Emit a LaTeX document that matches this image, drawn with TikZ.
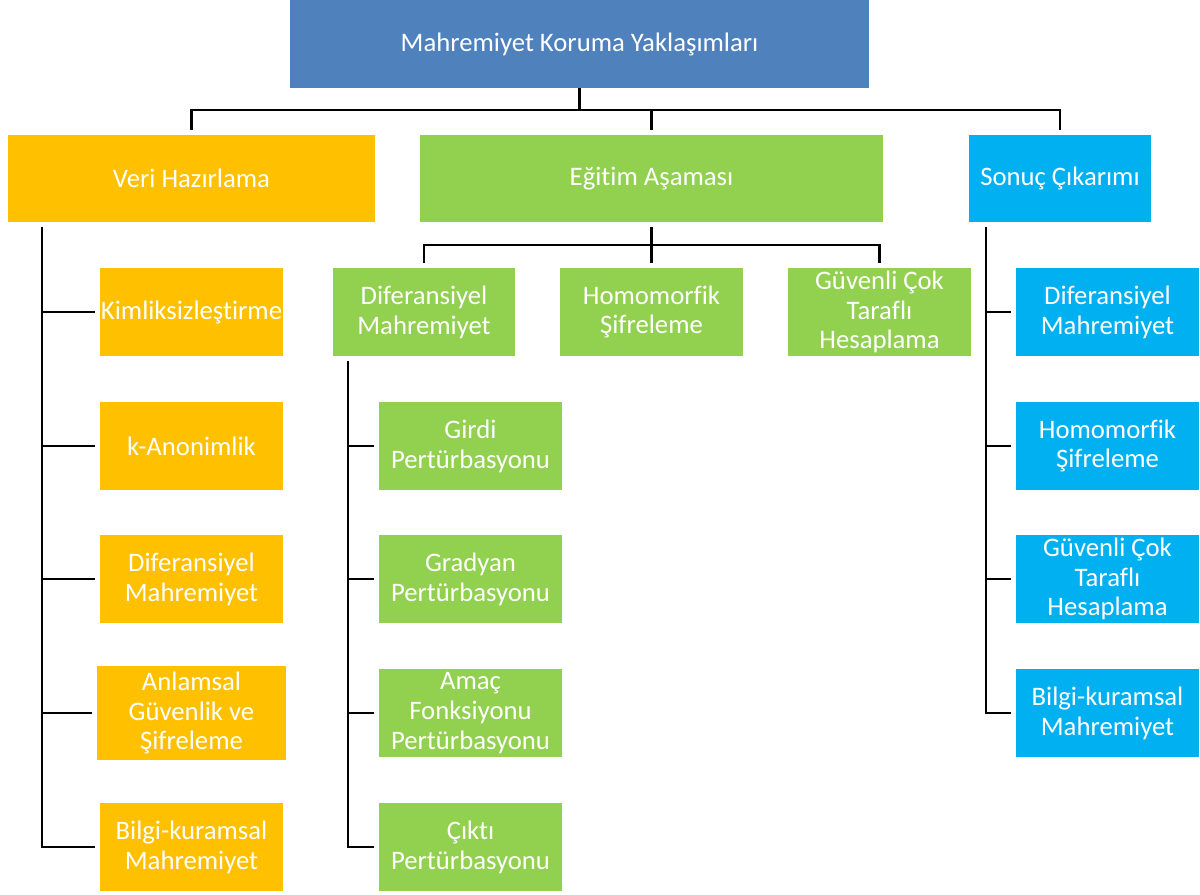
\documentclass[tikz,border=0pt]{standalone}
\usepackage{fontspec}
\setmainfont[Ligatures=CommonOff]{Carlito}
\definecolor{kokmavi}{HTML}{4F81BD}
\definecolor{verisari}{HTML}{FFC000}
\definecolor{egitimyesil}{HTML}{92D050}
\definecolor{sonucmavi}{HTML}{00B0F0}
\tikzset{
  kutu/.style={text=white, align=center, inner sep=0pt, outer sep=2.8pt,
    font=\fontsize{15.2}{17}\selectfont, minimum width=3.66cm, minimum height=1.76cm},
  hat/.style={draw=black, line width=1.2pt},
}
\begin{document}
\begin{tikzpicture}[x=0.02cm,y=-0.02cm]
    \useasboundingbox (0,0) rectangle (1200,895);
    \begin{scope}
      \node[kutu,fill=kokmavi,minimum width=11.58cm,outer sep=0pt] (kok) at (579.5,44) {Mahremiyet Koruma Yaklaşımları};
      \node[kutu,fill=verisari,minimum width=7.34cm,minimum height=1.74cm] (veri) at (191.5,178.5) {Veri Hazırlama};
      \node[kutu,fill=egitimyesil,minimum width=9.26cm,minimum height=1.74cm] (egitim) at (651.5,178.5) {Eğitim Aşaması};
      \node[kutu,fill=sonucmavi,minimum width=3.64cm,minimum height=1.74cm] (sonuc) at (1060,178.5) {Sonuç Çıkarımı};
      % veri hazirlama
      \node[kutu,fill=verisari] (kim) at (191.5,312) {Kimliksizleştirme};
      \node[kutu,fill=verisari] (kanon) at (191.5,446) {k-Anonimlik};
      \node[kutu,fill=verisari] (difv) at (191.5,579) {Diferansiyel\\Mahremiyet};
      \node[kutu,fill=verisari,minimum width=3.8cm,minimum height=1.88cm] (anl) at (191.5,713) {Anlamsal\\Güvenlik ve\\Şifreleme};
      \node[kutu,fill=verisari] (bilv) at (191.5,847) {Bilgi-kuramsal\\Mahremiyet};
      % egitim asamasi
      \node[kutu,fill=egitimyesil] (difm) at (424,312) {Diferansiyel\\Mahremiyet};
      \node[kutu,fill=egitimyesil] (homm) at (651.5,312) {Homomorfik\\Şifreleme};
      \node[kutu,fill=egitimyesil] (guvm) at (879.5,312) {Güvenli Çok\\Taraflı\\Hesaplama};
      \node[kutu,fill=egitimyesil] (girdi) at (470.5,446) {Girdi\\Pertürbasyonu};
      \node[kutu,fill=egitimyesil] (grad) at (470.5,579) {Gradyan\\Pertürbasyonu};
      \node[kutu,fill=egitimyesil] (amac) at (470.5,713) {Amaç\\Fonksiyonu\\Pertürbasyonu};
      \node[kutu,fill=egitimyesil] (cikti) at (470.5,847) {Çıktı\\Pertürbasyonu};
      % sonuc cikarimi
      \node[kutu,fill=sonucmavi] (difs) at (1107.5,312) {Diferansiyel\\Mahremiyet};
      \node[kutu,fill=sonucmavi] (homs) at (1107.5,446) {Homomorfik\\Şifreleme};
      \node[kutu,fill=sonucmavi] (guvs) at (1107.5,579) {Güvenli Çok\\Taraflı\\Hesaplama};
      \node[kutu,fill=sonucmavi] (bils) at (1107.5,713) {Bilgi-kuramsal\\Mahremiyet};

      \draw[hat] (kok.south) -- ++(0,22) coordinate (anahat);
      \draw[hat] (veri.north) |- (anahat) -| (sonuc.north);
      \draw[hat] (anahat) -| (egitim.north);
      \draw[hat] (egitim.south) -- ++(0,18) coordinate (egitimhat);
      \draw[hat] (difm.north) |- (egitimhat) -| (guvm.north);
      \draw[hat] (egitimhat) -- (homm.north);

      \path (veri.south west) ++(39,0) coordinate (veriust);
      \foreach \k in {kim,kanon,difv,anl,bilv}
        \draw[hat] (veriust) |- (\k.west);
      \path (difm.south west) ++(20,0) coordinate (difust);
      \foreach \k in {girdi,grad,amac,cikti}
        \draw[hat] (difust) |- (\k.west);
      \path (sonuc.south west) ++(22,0) coordinate (sonucust);
      \foreach \k in {difs,homs,guvs,bils}
        \draw[hat] (sonucust) |- (\k.west);
    \end{scope}
\end{tikzpicture}
\end{document}
